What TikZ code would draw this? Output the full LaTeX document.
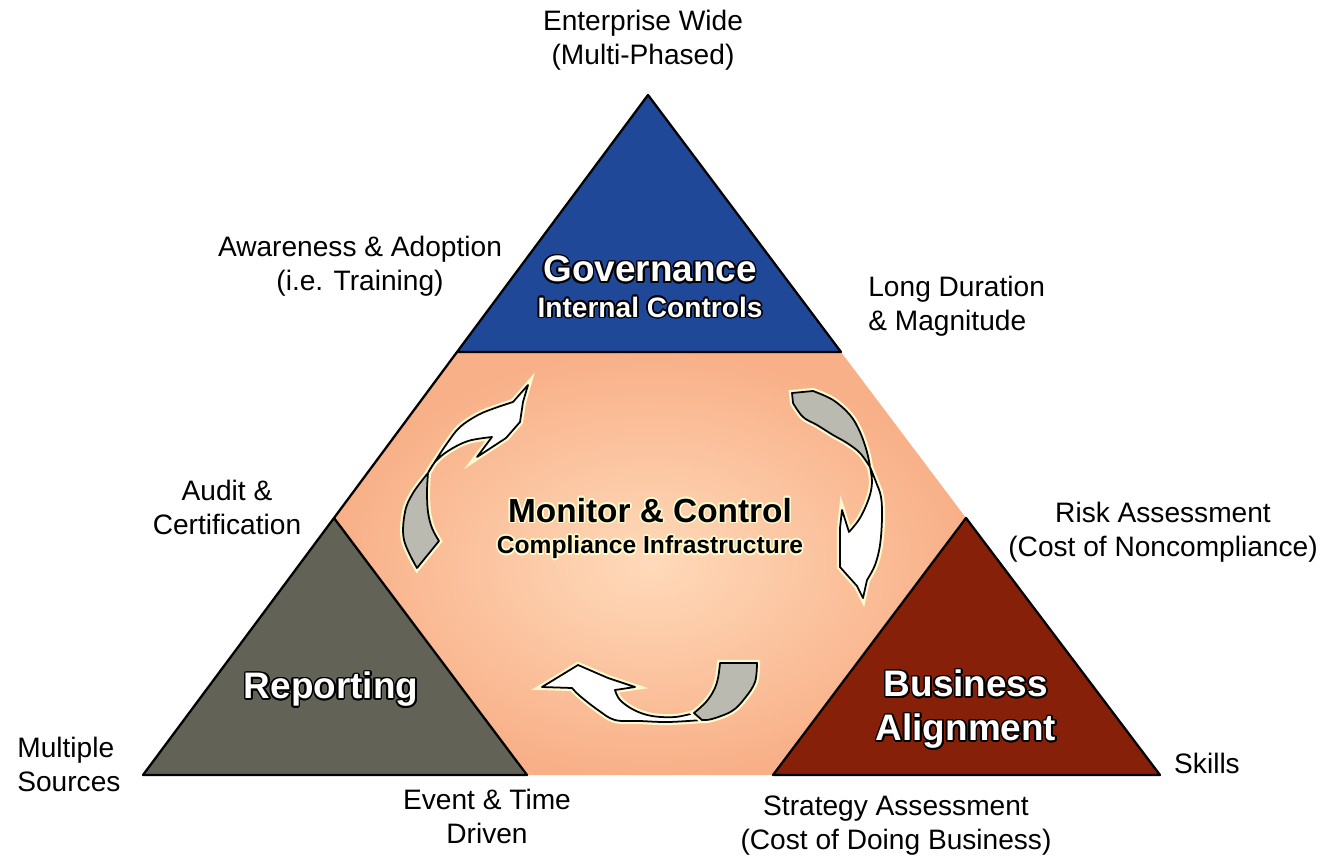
\documentclass[tikz,border=0pt]{standalone}
\usepackage{fontspec}
\setmainfont{Liberation Sans}
\usepackage[copies]{contour}
\contourlength{0.9pt}
\definecolor{govblue}{RGB}{32,72,152}
\definecolor{repgray}{RGB}{98,98,86}
\definecolor{bizbrown}{RGB}{134,32,8}
\definecolor{midpeach}{RGB}{255,218,186}
\definecolor{midorange}{RGB}{248,176,136}
\definecolor{leafgray}{RGB}{186,186,176}
\definecolor{halo}{RGB}{255,250,205}

\begin{document}
\begin{tikzpicture}[
        x=0.02cm, y=-0.02cm,
        note/.style={font=\fontsize{16}{19.3}\selectfont, align=center, inner sep=0pt},
        bigtitle/.style={font=\bfseries\fontsize{21}{25}\selectfont, align=center, inner sep=0pt},
        subtitle/.style={font=\bfseries\fontsize{16}{19}\selectfont, inner sep=0pt},
        corner/.style={draw=black, line width=1.3pt, line join=round},
        ribbon/.style={draw=black, line width=1pt, line join=round, preaction={draw=halo, line width=3.5pt}}
    ]
        \useasboundingbox (0,0) rectangle (1321,858);

        % Corners of the pyramid
        \coordinate (apex) at (648,95);
        \coordinate (bl) at (143,775);
        \coordinate (br) at (1160,775);
        \coordinate (gl) at (457,352);
        \coordinate (gr) at (841,352);
        \coordinate (rtop) at (334,518);
        \coordinate (rbr) at (527,775);
        \coordinate (btop) at (966,518);
        \coordinate (bbl) at (773,775);

        % Middle band
        \path[inner color=midpeach, outer color=midorange] (gl) -- (gr) -- (btop) -- (bbl) -- (rbr) -- (rtop) -- cycle;
        \draw[corner] (gl) -- (rtop);

        % Three corner triangles
        \filldraw[corner, fill=govblue] (apex) -- (gl) -- (gr) -- cycle;
        \filldraw[corner, fill=repgray] (rtop) -- (bl) -- (rbr) -- cycle;
        \filldraw[corner, fill=bizbrown] (btop) -- (bbl) -- (br) -- cycle;

        % Cycle arrows: left (up)
        \draw[ribbon, fill=leafgray] plot[smooth, tension=0.6] coordinates {(417,568) (404,540) (405,512) (413,493) (428,473)}
            -- plot[smooth, tension=0.6] coordinates {(428,473) (427,492) (428,512) (432,528) (439,541)} -- cycle;
        \draw[ribbon, fill=white] plot[smooth, tension=0.6] coordinates {(428,473) (436,460) (448,442) (460,427) (478,415) (495,408) (513,402)}
            -- (528,385) -- (523,402) -- (520,422) -- (506,438) -- (477,457) -- (492,437)
            -- plot[smooth, tension=0.6] coordinates {(492,437) (468,441) (448,451) (435,462) (428,473)} -- cycle;

        % right (down)
        \draw[ribbon, fill=leafgray] (792,393) -- (813,391)
            -- plot[smooth, tension=0.6] coordinates {(813,391) (833,400) (850,415) (860,432) (867,452) (870,467)}
            -- plot[smooth, tension=0.6] coordinates {(870,467) (860,453) (847,443) (833,435) (817,425) (803,417) (793,403)} -- cycle;
        \draw[ribbon, fill=white] plot[smooth, tension=0.6] coordinates {(870,467) (876,482) (881,497) (882,518) (880,545) (875,565) (867,580)}
            -- (863,598) -- (857,586) -- (848,576) -- (840,567) -- (840,528) -- (842,510) -- (849,532)
            -- plot[smooth, tension=0.6] coordinates {(849,532) (860,518) (869,498) (872,482) (870,467)} -- cycle;

        % bottom (left)
        \draw[ribbon, fill=white] (542,687) -- (578,665) -- (608,678) -- (635,687) -- (615,690)
            -- plot[smooth, tension=0.6] coordinates {(615,690) (620,700) (634,710) (652,716) (675,717) (694,713)}
            -- (702,720)
            -- plot[smooth, tension=0.6] coordinates {(702,720) (668,722) (640,721) (615,720) (598,710) (580,696) (572,688)} -- cycle;
        \draw[ribbon, fill=leafgray] plot[smooth, tension=0.6] coordinates {(694,713) (706,702) (714,690) (718,678) (720,663)}
            -- (757,663)
            -- plot[smooth, tension=0.6] coordinates {(757,663) (755,682) (745,698) (732,711) (712,719) (702,720)} -- cycle;

        % Titles
        \node[bigtitle, text=white] (gov) at (650,270) {\contour{black}{Governance}};
        \node[subtitle, text=white] (govsub) at (650,308) {\contour{black}{Internal Controls}};
        \node[bigtitle, font=\bfseries\fontsize{19}{22}\selectfont] (mon) at (650,511) {\contour{halo}{Monitor \& Control}};
        \node[subtitle, font=\bfseries\fontsize{14}{17}\selectfont] (monsub) at (650,548) {\contour{halo}{Compliance Infrastructure}};
        \node[bigtitle, text=white] (rep) at (331,690) {\contour{black}{Reporting}};
        \node[bigtitle, text=white] (biz) at (966,710) {\contour{black}{Business}\\\contour{black}{Alignment}};

        % Notes round the pyramid
        \node[note] (entwide) at (643,40) {Enterprise Wide\\(Multi-Phased)};
        \node[note] (aware) at (360,266) {Awareness \& Adoption\\(i.e. Training)};
        \node[note, align=left, anchor=west] (longdur) at (868,306) {Long Duration\\\& Magnitude};
        \node[note] (audit) at (227,507) {Audit \&\\Certification};
        \node[note] (risk) at (1163,532) {Risk Assessment\\(Cost of Noncompliance)};
        \node[note, align=left, anchor=west] (multi) at (17,764) {Multiple\\Sources};
        \node[note] (skills) at (1207,763) {Skills};
        \node[note] (event) at (487,816) {Event \& Time\\Driven};
        \node[note] (strategy) at (896,826) {Strategy Assessment\\(Cost of Doing Business)};
    \end{tikzpicture}
\end{document}
